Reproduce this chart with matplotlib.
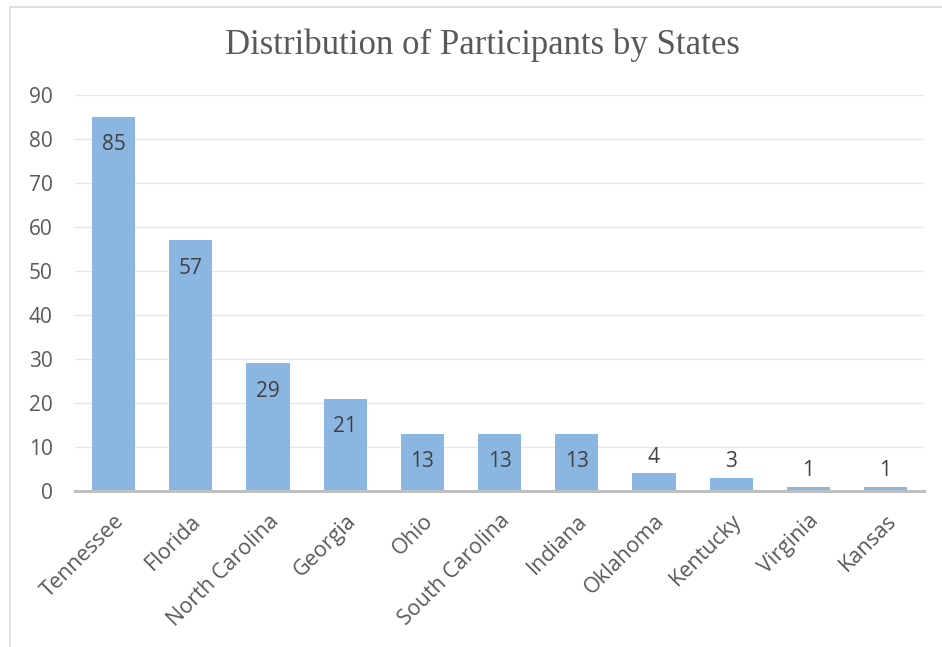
import matplotlib.pyplot as plt
from matplotlib.lines import Line2D

# ---------------------- DATA ----------------------
states = ["Tennessee", "Florida", "North Carolina", "Georgia", "Ohio",
          "South Carolina", "Indiana", "Oklahoma", "Kentucky", "Virginia", "Kansas"]
participants = [85, 57, 29, 21, 13, 13, 13, 4, 3, 1, 1]
y_ticks = [0, 10, 20, 30, 40, 50, 60, 70, 80, 90]
# --------------------------------------------------

BAR = "#8AB6E1"
TICK = "#595959"
LABEL = "#404040"

fig = plt.figure(figsize=(9.42, 6.47), dpi=100)
ax = fig.add_axes([0.0796, 0.241, 0.9014, 0.612])

x = range(len(states))
ax.bar(x, participants, width=0.56, color=BAR, zorder=3)

for i, v in zip(x, participants):
    # labels sit inside the bar end when they fit, otherwise just above
    dy = -20 if v >= 10 else 11.5
    ax.annotate(str(v), (i, v), xytext=(0, dy), textcoords="offset points",
                ha="center", va="center", fontsize=15, color=LABEL,
                family="Open Sans", zorder=4)

ax.set_xlim(-0.5, len(states) - 0.5)
ax.set_ylim(0, 90)
ax.set_yticks(y_ticks)
ax.set_yticklabels([str(t) for t in y_ticks], family="Open Sans", fontsize=15, color=TICK)
ax.set_xticks(list(x))
ax.set_xticklabels(states, rotation=45, ha="right", rotation_mode="anchor",
                   family="Open Sans", fontsize=15.5, color=TICK)
ax.tick_params(axis="both", length=0)
ax.tick_params(axis="y", pad=16)
ax.tick_params(axis="x", pad=14)

ax.grid(axis="y", color="#E6E6E6", linewidth=1, zorder=0)
for s in ["top", "right", "left"]:
    ax.spines[s].set_visible(False)
ax.spines["bottom"].set_color("#BFBFBF")
ax.spines["bottom"].set_linewidth(2.2)
ax.spines["bottom"].set_zorder(5)

fig.text(0.512, 0.930, "Distribution of Participants by States", ha="center", va="center",
         family="Liberation Serif", fontsize=25, color=TICK)

# chart frame (left and top edges visible in the reference)
fig.add_artist(Line2D([10 / 942, 10 / 942], [0, 1 - 7 / 647], transform=fig.transFigure,
                      color="#D9D9D9", linewidth=1.2))
fig.add_artist(Line2D([10 / 942, 1], [1 - 7 / 647, 1 - 7 / 647], transform=fig.transFigure,
                      color="#D9D9D9", linewidth=1.2))

plt.savefig("out.png", dpi=100)
